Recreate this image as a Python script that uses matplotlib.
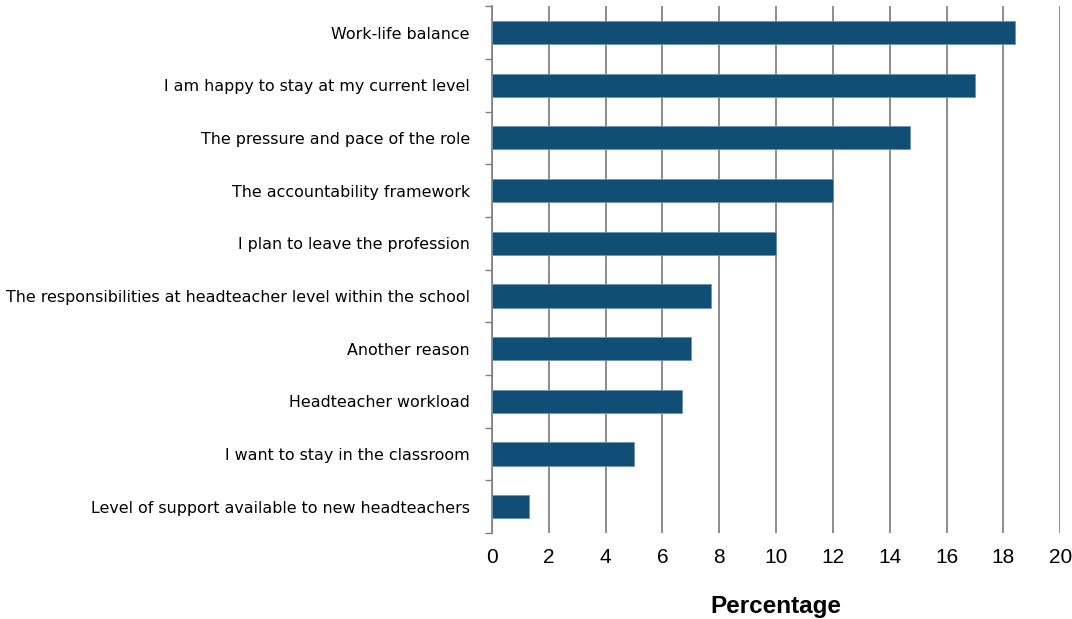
import numpy as np
import matplotlib
matplotlib.use('Agg')
import matplotlib.pyplot as plt

# data to plot
reasons = ['Work-life balance',
           'I am happy to stay at my current level',
           'The pressure and pace of the role',
           'The accountability framework',
           'I plan to leave the profession',
           'The responsibilities at headteacher level within the school',
           'Another reason',
           'Headteacher workload',
           'I want to stay in the classroom',
           'Level of support available to new headteachers']
percent = [18.4, 17.0, 14.7, 12.0, 10.0, 7.7, 7.0, 6.7, 5.0, 1.3]
xticks = [0, 2, 4, 6, 8, 10, 12, 14, 16, 18, 20]

plt.rcParams['font.family'] = ['Liberation Sans', 'DejaVu Sans']

fig = plt.figure(figsize=(10.72, 6.19), dpi=100)
ax = fig.add_axes([0.459, 0.139, 0.530, 0.851])

y_pos = np.arange(len(reasons))
ax.barh(y_pos, percent, height=0.44, color='#104e75', edgecolor='#6d93ad', linewidth=0.6, zorder=3)

ax.set_ylim(len(reasons) - 0.5, -0.5)
ax.set_xlim(0, 20)
ax.set_yticks(y_pos)
ax.set_yticklabels(reasons, fontsize=11.4, family=['DejaVu Sans'])
ax.set_yticks(np.arange(-0.5, len(reasons)), minor=True)
ax.tick_params(axis='y', which='major', length=0, pad=16)
ax.tick_params(axis='y', which='minor', length=5, color='#7f7f7f', width=1)

ax.set_xticks(xticks)
ax.set_xticklabels([str(t) for t in xticks], fontsize=15)
ax.tick_params(axis='x', length=0, pad=11)
ax.xaxis.grid(True, color='#8c8c8c', linewidth=1.4, zorder=0)

for s in ['top', 'right', 'bottom']:
    ax.spines[s].set_visible(False)
ax.spines['left'].set_color('#7f7f7f')
ax.spines['left'].set_linewidth(1.2)

ax.set_xlabel('Percentage', fontsize=17.5, fontweight='bold', labelpad=20)

fig.savefig('out.png', dpi=100)
